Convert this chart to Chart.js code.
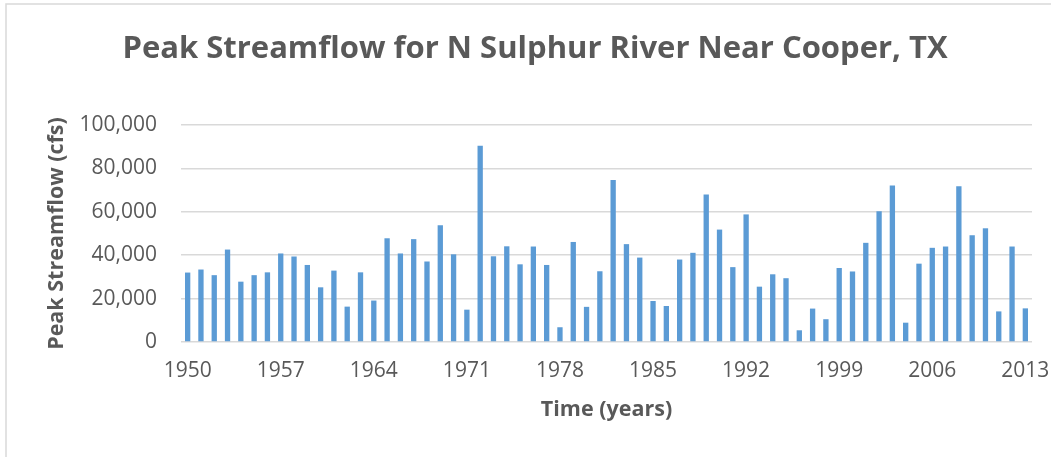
<!DOCTYPE html>
<html>
<head>
<meta charset="utf-8">
<script src="https://cdn.jsdelivr.net/npm/chart.js@4.4.1/dist/chart.umd.min.js"></script>
<style>
  html, body { margin: 0; padding: 0; background: #ffffff; }
  #wrap { position: relative; width: 1051px; height: 457px; }
</style>
</head>
<body>
<div id="wrap"><canvas id="c" width="1051" height="457"></canvas></div>
<script>
const chartTitle = "Peak Streamflow for N Sulphur River Near Cooper, TX";
const xAxisTitle = "Time (years)";
const yAxisTitle = "Peak Streamflow (cfs)";

const years = [];
for (let y = 1950; y <= 2013; y++) years.push(String(y));

const shownYearLabels = ["1950", "1957", "1964", "1971", "1978", "1985", "1992", "1999", "2006", "2013"];

const peakFlow = [
  32000, 33400, 30800, 42600, 27800, 30800, 32100, 40800, 39400, 35500,
  25200, 32900, 16300, 32100, 19100, 47800, 40800, 47400, 37100, 53800,
  40400, 14900, 90400, 39500, 44100, 35800, 44000, 35500, 6800, 46100,
  16200, 32600, 74600, 45100, 38900, 18900, 16600, 38000, 41100, 68000,
  51800, 34500, 58800, 25500, 31200, 29400, 5400, 15400, 10500, 34100,
  32500, 45700, 60300, 72100, 8900, 36100, 43400, 44000, 71800, 49200,
  52400, 14100, 44000, 15500
];

const yTicks = [0, 20000, 40000, 60000, 80000, 100000];

const textColor = '#595959';
const gridColor = '#d9d9d9';
const barColor = '#5b9bd5';
const fontFam = "'Open Sans', 'Liberation Sans', sans-serif";

const framePlugin = {
  id: 'frameAndTitle',
  beforeDraw(chart) {
    const ctx = chart.ctx;
    ctx.save();
    ctx.fillStyle = '#ffffff';
    ctx.fillRect(0, 0, chart.width, chart.height);
    ctx.strokeStyle = gridColor;
    ctx.lineWidth = 1.5;
    ctx.strokeRect(6, 4, chart.width + 20, chart.height + 20);
    ctx.restore();
  },
  afterDraw(chart) {
    const ctx = chart.ctx;
    ctx.save();
    ctx.fillStyle = textColor;
    ctx.font = "bold 31px " + fontFam;
    ctx.textAlign = 'center';
    ctx.textBaseline = 'middle';
    ctx.fillText(chartTitle, 535, 49);
    ctx.restore();
  }
};

new Chart(document.getElementById('c'), {
  type: 'bar',
  data: {
    labels: years,
    datasets: [{
      label: 'Peak Streamflow',
      data: peakFlow,
      backgroundColor: barColor,
      borderWidth: 0,
      barPercentage: 0.8,
      categoryPercentage: 0.5
    }]
  },
  plugins: [framePlugin],
  options: {
    responsive: false,
    animation: false,
    layout: { padding: { top: 125, right: 19, bottom: 0, left: 0 } },
    plugins: {
      legend: { display: false },
      title: { display: false },
      tooltip: { enabled: false }
    },
    scales: {
      x: {
        grid: { display: false, drawTicks: false },
        border: { display: false },
        ticks: {
          autoSkip: false,
          maxRotation: 0,
          minRotation: 0,
          padding: 16,
          color: textColor,
          font: { family: fontFam, size: 21 },
          callback: function (value, index) {
            const lab = years[index];
            return shownYearLabels.includes(lab) ? lab : '';
          }
        },
        title: {
          display: true,
          text: xAxisTitle,
          color: textColor,
          font: { family: fontFam, size: 21.5, weight: 'bold' },
          padding: { top: 0, bottom: 34 }
        },
        afterFit(scale) {
          scale.height = 115;
          scale.paddingLeft = 0;
          scale.paddingRight = 0;
        }
      },
      y: {
        min: 0,
        max: 100000,
        afterBuildTicks(scale) { scale.ticks = yTicks.map(v => ({ value: v })); },
        grid: { color: gridColor, lineWidth: 1.5, drawTicks: false },
        border: { display: false },
        ticks: {
          padding: 24,
          color: textColor,
          font: { family: fontFam, size: 21 },
          callback: v => Number(v).toLocaleString('en-US')
        },
        title: {
          display: true,
          text: yAxisTitle,
          color: textColor,
          font: { family: fontFam, size: 21.5, weight: 'bold' },
          padding: { top: 44, bottom: 0 }
        },
        afterFit(scale) {
          scale.width = 181;
          scale.paddingTop = 0;
          scale.paddingBottom = 0;
        }
      }
    }
  }
});
</script>
</body>
</html>
